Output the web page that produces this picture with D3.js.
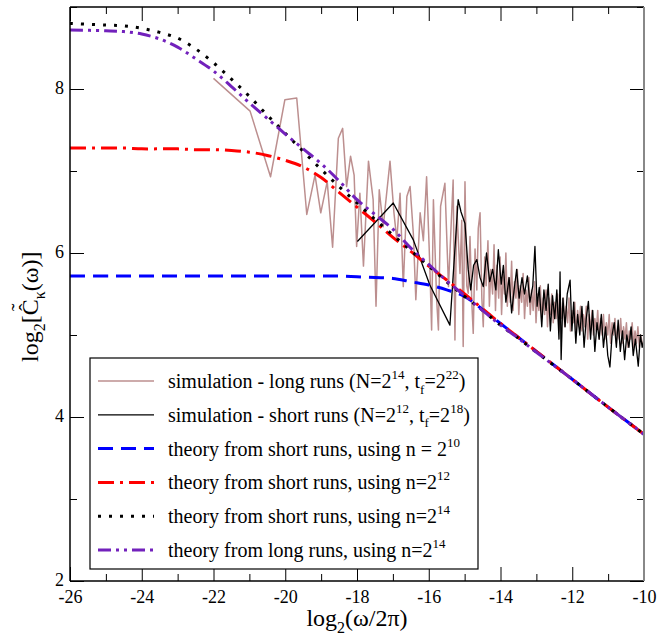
<!DOCTYPE html>
<html>
<head>
<meta charset="utf-8">
<script src="https://cdnjs.cloudflare.com/ajax/libs/d3/7.8.5/d3.min.js"></script>
<style>
  body { margin: 0; background: #fff; }
  svg { display: block; }
  svg text { font-family: "Liberation Serif", "Times New Roman", serif; }
</style>
</head>
<body>
<svg id="chart" width="659" height="636"></svg>
<script>
// x = log2(w/2pi), theory curves read on a common grid
const theoryX = [-26, -25, -24.5, -24, -23.5, -23, -22.5, -22, -21.5, -21, -20.5, -20, -19.5, -19, -18.5,
  -18, -17.5, -17, -16.5, -16, -15.5, -15, -14.5, -14, -13.5, -13, -12, -11, -10];
const theoryShortN10 = [5.72, 5.72, 5.72, 5.72, 5.72, 5.72, 5.72, 5.72, 5.72, 5.72, 5.72, 5.72, 5.72, 5.72, 5.72,
  5.71, 5.70, 5.69, 5.65, 5.61, 5.55, 5.47, 5.31, 5.14, 4.97, 4.80, 4.46, 4.12, 3.79];
const theoryShortN12 = [7.28, 7.28, 7.28, 7.27, 7.27, 7.27, 7.26, 7.26, 7.25, 7.23, 7.19, 7.13, 7.05, 6.92, 6.74,
  6.56, 6.38, 6.19, 6.02, 5.84, 5.67, 5.50, 5.32, 5.14, 4.97, 4.80, 4.46, 4.12, 3.79];
const theoryShortN14 = [8.80, 8.78, 8.77, 8.74, 8.69, 8.62, 8.49, 8.32, 8.12, 7.91, 7.68, 7.46, 7.24, 7.02, 6.81,
  6.61, 6.41, 6.22, 6.03, 5.84, 5.65, 5.47, 5.30, 5.12, 4.96, 4.79, 4.46, 4.12, 3.79];
const theoryLongN14 = [8.72, 8.71, 8.70, 8.67, 8.61, 8.51, 8.37, 8.22, 8.03, 7.83, 7.64, 7.45, 7.27, 7.09, 6.88,
  6.65, 6.47, 6.29, 6.06, 5.86, 5.66, 5.48, 5.30, 5.12, 4.96, 4.79, 4.46, 4.12, 3.79];

// simulation spectra [x, y]
const longRuns = [
  [-22.0, 8.13], [-20.98, 7.73], [-20.41, 6.93], [-20.01, 7.87], [-19.68, 7.89], [-19.40, 6.47],
  [-19.17, 6.95], [-19.01, 6.49], [-18.83, 6.87], [-18.68, 6.07], [-18.52, 7.40], [-18.40, 7.52],
  [-18.29, 6.81], [-18.18, 7.18], [-18.08, 6.95], [-18.01, 6.08], [-17.92, 6.73], [-17.82, 5.84],
  [-17.68, 7.12], [-17.55, 6.65], [-17.47, 5.35], [-17.38, 6.77], [-17.27, 6.32], [-17.08, 7.12],
  [-16.97, 6.49], [-16.89, 6.16], [-16.80, 6.73], [-16.71, 5.59], [-16.61, 6.69], [-16.52, 6.81],
  [-16.43, 6.24], [-16.36, 5.43], [-16.24, 6.49], [-16.15, 6.15], [-16.06, 6.93], [-15.97, 5.84],
  [-15.92, 5.06], [-15.87, 6.65], [-15.78, 5.43], [-15.73, 5.06], [-15.67, 6.57], [-15.55, 6.85],
  [-15.45, 5.59], [-15.38, 6.30], [-15.32, 6.89], [-15.27, 4.94], [-15.22, 6.57], [-15.13, 5.75],
  [-15.08, 6.40], [-15.04, 4.86], [-14.99, 6.87], [-14.94, 5.60], [-14.90, 5.51], [-14.85, 6.20],
  [-14.80, 5.40], [-14.76, 5.02], [-14.71, 6.05], [-14.66, 5.55], [-14.62, 6.30], [-14.57, 6.49],
  [-14.52, 5.45], [-14.48, 5.10], [-14.44, 5.95], [-14.40, 5.60], [-14.35, 6.15], [-14.31, 5.35],
  [-14.27, 5.80], [-14.22, 5.50], [-14.18, 6.10], [-14.14, 5.30], [-14.10, 5.85], [-14.05, 5.45],
  [-14.01, 5.95], [-13.97, 5.25], [-13.93, 5.75], [-13.89, 5.50], [-13.85, 6.00], [-13.81, 5.35],
  [-13.77, 5.70], [-13.73, 5.40], [-13.69, 5.90], [-13.65, 5.30], [-13.61, 5.65], [-13.57, 5.45],
  [-13.53, 5.80], [-13.49, 5.25], [-13.45, 5.60], [-13.41, 5.40], [-13.37, 5.75], [-13.33, 5.20],
  [-13.29, 5.55], [-13.25, 5.35], [-13.21, 5.70], [-13.17, 5.25], [-13.13, 5.55], [-13.09, 5.30],
  [-13.05, 5.65], [-13.01, 5.15], [-12.97, 5.50], [-12.93, 5.30], [-12.89, 5.60], [-12.85, 5.20],
  [-12.81, 5.45], [-12.77, 5.25], [-12.73, 5.55], [-12.69, 5.10], [-12.65, 5.45], [-12.61, 5.25],
  [-12.57, 5.50], [-12.53, 5.15], [-12.49, 5.40], [-12.45, 5.20], [-12.41, 5.50], [-12.37, 5.05],
  [-12.33, 5.40], [-12.29, 5.20], [-12.25, 5.45], [-12.21, 5.10], [-12.17, 5.35], [-12.13, 5.15],
  [-12.09, 5.45], [-12.05, 5.05], [-12.01, 5.30], [-11.97, 5.15], [-11.93, 5.40], [-11.89, 5.00],
  [-11.85, 5.30], [-11.81, 5.10], [-11.77, 5.35], [-11.73, 5.05], [-11.69, 5.25], [-11.65, 5.10],
  [-11.61, 5.35], [-11.57, 4.95], [-11.53, 5.25], [-11.49, 5.05], [-11.45, 5.30], [-11.41, 5.00],
  [-11.37, 5.20], [-11.33, 5.05], [-11.29, 5.30], [-11.25, 4.95], [-11.21, 5.20], [-11.17, 5.00],
  [-11.13, 5.25], [-11.09, 4.95], [-11.05, 5.15], [-11.01, 5.00], [-10.97, 5.25], [-10.93, 4.90],
  [-10.89, 5.15], [-10.85, 5.00], [-10.81, 5.20], [-10.77, 4.90], [-10.73, 5.10], [-10.69, 4.95],
  [-10.65, 5.20], [-10.61, 4.90], [-10.57, 5.10], [-10.53, 4.95], [-10.49, 5.15], [-10.45, 4.85],
  [-10.41, 5.05], [-10.37, 4.95], [-10.33, 5.15], [-10.29, 4.85], [-10.25, 5.05], [-10.21, 4.90],
  [-10.17, 5.10], [-10.13, 4.85], [-10.09, 5.00], [-10.05, 4.90], [-10.01, 4.86]
];
const shortRuns = [
  [-17.99, 6.14], [-16.99, 6.61], [-16.43, 6.16], [-15.97, 5.61], [-15.41, 5.12], [-15.18, 6.65],
  [-15.10, 6.50], [-14.99, 6.36], [-14.90, 5.80], [-14.83, 5.55], [-14.75, 5.85], [-14.66, 5.92],
  [-14.57, 5.70], [-14.48, 5.59], [-14.39, 6.00], [-14.30, 5.65], [-14.22, 5.80], [-14.13, 5.55],
  [-14.06, 6.04], [-13.98, 5.62], [-13.92, 5.85], [-13.85, 5.40], [-13.76, 5.70], [-13.69, 5.27],
  [-13.62, 5.55], [-13.55, 5.80], [-13.48, 5.45], [-13.40, 5.70], [-13.33, 5.50], [-13.25, 5.72],
  [-13.18, 5.40], [-13.10, 5.60], [-13.04, 6.08], [-12.98, 5.35], [-12.92, 5.58], [-12.85, 5.10],
  [-12.79, 5.55], [-12.73, 5.30], [-12.67, 5.62], [-12.61, 5.05], [-12.55, 5.48], [-12.49, 5.20],
  [-12.43, 5.55], [-12.37, 4.95], [-12.34, 5.77], [-12.31, 4.70], [-12.26, 5.45], [-12.20, 5.10],
  [-12.14, 5.50], [-12.06, 5.67], [-12.01, 5.05], [-11.96, 5.40], [-11.90, 4.90], [-11.85, 5.25],
  [-11.79, 5.00], [-11.73, 5.35], [-11.67, 4.85], [-11.61, 5.20], [-11.55, 5.41], [-11.49, 4.95],
  [-11.43, 5.30], [-11.37, 4.80], [-11.31, 5.15], [-11.25, 4.95], [-11.19, 5.25], [-11.13, 4.85],
  [-11.07, 5.10], [-11.01, 4.75], [-10.95, 4.61], [-10.89, 5.00], [-10.83, 5.15], [-10.77, 4.85],
  [-10.72, 5.18], [-10.66, 4.80], [-10.60, 5.05], [-10.54, 4.70], [-10.48, 5.00], [-10.42, 4.85],
  [-10.36, 5.10], [-10.30, 4.75], [-10.24, 4.95], [-10.16, 4.62], [-10.10, 5.00], [-10.05, 4.85],
  [-10.00, 4.95]
];

const xTicks = [-26, -24, -22, -20, -18, -16, -14, -12, -10];
const xMinorTicks = [-25, -23, -21, -19, -17, -15, -13, -11];
const yTicks = [2, 4, 6, 8];
const yMinorTicks = [3, 5, 7, 9];

const FONT = '"Liberation Serif", "Times New Roman", serif';

const margin = { top: 7, right: 15, bottom: 55, left: 70 };
const width = 659 - margin.left - margin.right;
const height = 636 - margin.top - margin.bottom;

const svg = d3.select('#chart');
const g = svg.append('g').attr('transform', `translate(${margin.left},${margin.top})`);

const x = d3.scaleLinear().domain([-26, -10]).range([0, width]);
const y = d3.scaleLinear().domain([2, 9]).range([height, 0]);

g.append('clipPath').attr('id', 'plot-clip')
  .append('rect').attr('width', width).attr('height', height);

const plot = g.append('g').attr('clip-path', 'url(#plot-clip)');

// styles per series, same order as the legend
const smooth = d3.curveCatmullRom.alpha(0.5);
const series = [
  { data: longRuns, color: '#bc8f8f', w: 1.5, dash: null, curve: d3.curveLinear },
  { data: shortRuns, color: '#000', w: 1.3, dash: null, curve: d3.curveLinear },
  { data: theoryX.map((v, i) => [v, theoryShortN10[i]]), color: '#0000ff', w: 3, dash: '15,8', curve: smooth },
  { data: theoryX.map((v, i) => [v, theoryShortN12[i]]), color: '#ff0000', w: 3, dash: '16,6,3,6', curve: smooth },
  { data: theoryX.map((v, i) => [v, theoryShortN14[i]]), color: '#000', w: 3, dash: '3,8', curve: smooth },
  { data: theoryX.map((v, i) => [v, theoryLongN14[i]]), color: '#7221bc', w: 3, dash: '13,5,3,5,3,5', curve: smooth }
];

series.forEach(s => {
  const line = d3.line().x(d => x(d[0])).y(d => y(d[1])).curve(s.curve);
  plot.append('path')
    .datum(s.data)
    .attr('fill', 'none')
    .attr('stroke', s.color)
    .attr('stroke-width', s.w)
    .attr('stroke-dasharray', s.dash)
    .attr('stroke-linejoin', 'round')
    .attr('d', line);
});

// axes: ticks point into the plot on all four sides
function styleAxis(sel) {
  sel.select('.domain').remove();
  sel.attr('font-family', null).attr('font-size', 18);
  sel.selectAll('line').attr('stroke', '#000').attr('stroke-width', 1);
  sel.selectAll('text').style('font-family', FONT).attr('fill', '#000');
}

g.append('g').attr('transform', `translate(0,${height})`)
  .call(d3.axisBottom(x).tickValues(xTicks).tickSize(-14).tickPadding(9).tickFormat(d => d))
  .call(styleAxis);
g.append('g').attr('transform', `translate(0,${height})`)
  .call(d3.axisBottom(x).tickValues(xMinorTicks).tickSize(-7).tickFormat(''))
  .call(styleAxis);
g.append('g')
  .call(d3.axisTop(x).tickValues(xTicks).tickSize(-14).tickFormat(''))
  .call(styleAxis);
g.append('g')
  .call(d3.axisTop(x).tickValues(xMinorTicks).tickSize(-7).tickFormat(''))
  .call(styleAxis);
g.append('g')
  .call(d3.axisLeft(y).tickValues(yTicks).tickSize(-14).tickPadding(6).tickFormat(d => d))
  .call(styleAxis)
  .call(a => a.selectAll('text').attr('dy', '0.25em'));
g.append('g')
  .call(d3.axisLeft(y).tickValues(yMinorTicks).tickSize(-7).tickFormat(''))
  .call(styleAxis);
g.append('g').attr('transform', `translate(${width},0)`)
  .call(d3.axisRight(y).tickValues(yTicks).tickSize(-14).tickFormat(''))
  .call(styleAxis);
g.append('g').attr('transform', `translate(${width},0)`)
  .call(d3.axisRight(y).tickValues(yMinorTicks).tickSize(-7).tickFormat(''))
  .call(styleAxis);

// frame
g.append('line').attr('x1', 0).attr('x2', width).attr('y1', 0).attr('y2', 0).attr('stroke', '#000').attr('stroke-width', 1.5);
g.append('line').attr('x1', 0).attr('x2', width).attr('y1', height).attr('y2', height).attr('stroke', '#000').attr('stroke-width', 1.5);
g.append('line').attr('x1', 0).attr('x2', 0).attr('y1', 0).attr('y2', height).attr('stroke', '#000').attr('stroke-width', 1.5);
g.append('line').attr('x1', width).attr('x2', width).attr('y1', 0).attr('y2', height).attr('stroke', '#888').attr('stroke-width', 2);

// rich text with super/subscripts
function addRich(textSel, parts, base, small) {
  let shift = 0;
  textSel.style('font-family', FONT);
  parts.forEach(([t, k]) => {
    const target = k === 'sup' ? -0.45 * base : k === 'sub' ? 0.28 * base : 0;
    textSel.append('tspan')
      .attr('dy', target - shift)
      .attr('font-size', k ? small : base)
      .text(t);
    shift = target;
  });
}

// legend
const legendLabels = [
  [['simulation - long runs (N=2', ''], ['14', 'sup'], [', t', ''], ['f', 'sub'], ['=2', ''], ['22', 'sup'], [')', '']],
  [['simulation - short runs (N=2', ''], ['12', 'sup'], [', t', ''], ['f', 'sub'], ['=2', ''], ['18', 'sup'], [')', '']],
  [['theory from short runs, using n = 2', ''], ['10', 'sup']],
  [['theory from short runs, using n=2', ''], ['12', 'sup']],
  [['theory from short runs, using n=2', ''], ['14', 'sup']],
  [['theory from long runs, using n=2', ''], ['14', 'sup']]
];

const legend = svg.append('g').attr('transform', 'translate(90,358)');
legend.append('rect')
  .attr('width', 388).attr('height', 211)
  .attr('fill', '#fff').attr('stroke', '#000').attr('stroke-width', 1.2);

legendLabels.forEach((parts, i) => {
  const s = series[i];
  const ly = 23 + i * 33.8;
  legend.append('line')
    .attr('x1', 8).attr('x2', 64).attr('y1', ly).attr('y2', ly)
    .attr('stroke', s.color)
    .attr('stroke-width', s.w)
    .attr('stroke-dasharray', s.dash);
  const t = legend.append('text').attr('x', 78).attr('y', ly + 7).attr('fill', '#000');
  addRich(t, parts, 20, 13);
});

// x axis label
const xl = svg.append('text').attr('x', 357).attr('y', 626).attr('text-anchor', 'middle').attr('fill', '#000');
addRich(xl, [['log', ''], ['2', 'sub'], ['(ω/2π)', '']], 24, 16);

// y axis label, rotated; hat and tilde sit above the C
const yg = svg.append('g').attr('transform', 'translate(38,362) rotate(-90)');
const yl = yg.append('text').attr('x', 0).attr('y', 0).attr('fill', '#000');
addRich(yl, [['log', ''], ['2', 'sub'], ['[', ''], ['C', ''], ['κ', 'sub'], ['(ω)]', '']], 24, 16);
const cBox = yl.node().getExtentOfChar(5);
const cMid = cBox.x + cBox.width / 2;
yg.append('text').attr('x', cMid).attr('y', -4).attr('text-anchor', 'middle')
  .style('font-family', FONT).attr('font-size', 22).attr('fill', '#000').text('\u02C6');
yg.append('text').attr('x', cMid).attr('y', -12).attr('text-anchor', 'middle')
  .style('font-family', FONT).attr('font-size', 22).attr('fill', '#000').text('\u02DC');
</script>
</body>
</html>
